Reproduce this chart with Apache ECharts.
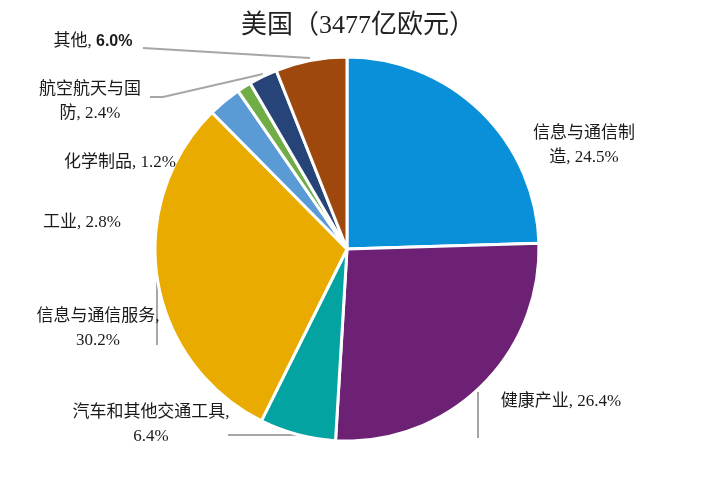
<!DOCTYPE html>
<html><head><meta charset="utf-8">
<script src="https://cdn.jsdelivr.net/npm/echarts@6/dist/echarts.min.js"></script>
<style>html,body{margin:0;padding:0;background:#fff}#c{width:716px;height:494px}</style>
</head><body><div id="c"></div>
<script>
const titleText = '美国（3477亿欧元）';
const categories = ['信息与通信制造','健康产业','汽车和其他交通工具','信息与通信服务','工业','化学制品','航空航天与国防','其他'];
const shares = [24.5, 26.4, 6.4, 30.2, 2.8, 1.2, 2.4, 6.0];
const labelHeads = ['信息与通信制\n造','健康产业','汽车和其他交通工具','信息与通信服务','工业','化学制品','航空航天与国\n防','其他'];
const labelSeps = [', ', ', ', ',\n', ',\n', ', ', ', ', ', ', ', '];
const colors = ['#0A8FD9','#6C2175','#03A3A1','#EAAB00','#5B9BD5','#70AD47','#264478','#9E480E'];

// label placement (layout only)
const layout = [
  {x:584, y:146},
  {x:561, y:402, line:[[478,392],[478,415],[478,438]]},
  {x:151, y:425, line:[[228,435],[262,435],[297,435]]},
  {x:98,  y:329, line:[[157,279],[157,312],[157,345]]},
  {x:82,  y:223},
  {x:120, y:163},
  {x:90,  y:102, line:[[150,97],[163,97],[263,74]]},
  {x:93,  y:42,  line:[[143,48],[226,53],[310,58]]}
];

const chart = echarts.init(document.getElementById('c'));
const data = categories.map((n,i)=>({
  name:n, value:shares[i],
  itemStyle:{color:colors[i]},
  labelLine:{show: !!layout[i].line}
}));
chart.setOption({
  animation:false,
  title:{text:titleText,left:'center',top:8,
    textStyle:{fontFamily:"'Liberation Serif','Noto Sans CJK SC'",fontSize:26,fontWeight:'normal',color:'#222'}},
  series:[{
    type:'pie',
    center:[347,249],
    radius:192,
    startAngle:90,
    clockwise:true,
    avoidLabelOverlap:false,
    data:data,
    itemStyle:{borderColor:'#fff',borderWidth:3},
    label:{
      show:true,
      fontFamily:"'Liberation Serif','Noto Sans CJK SC'",
      fontSize:17,
      lineHeight:24,
      color:'#1a1a1a',
      align:'center',
      formatter:function(p){
        const i=p.dataIndex;
        const v=shares[i].toFixed(1)+'%';
        if(i===7) return labelHeads[i]+labelSeps[i]+'{b|'+v+'}';
        return labelHeads[i]+labelSeps[i]+v;
      },
      rich:{b:{fontFamily:"'Liberation Sans'",fontWeight:'bold',fontSize:16,color:'#1a1a1a'}}
    },
    labelLine:{lineStyle:{color:'#A6A6A6',width:2}},
    labelLayout:function(p){
      const L=layout[p.dataIndex];
      const r={x:L.x,y:L.y,align:'center',verticalAlign:'middle'};
      if(L.line) r.labelLinePoints=L.line;
      return r;
    }
  }]
});
</script></body></html>
